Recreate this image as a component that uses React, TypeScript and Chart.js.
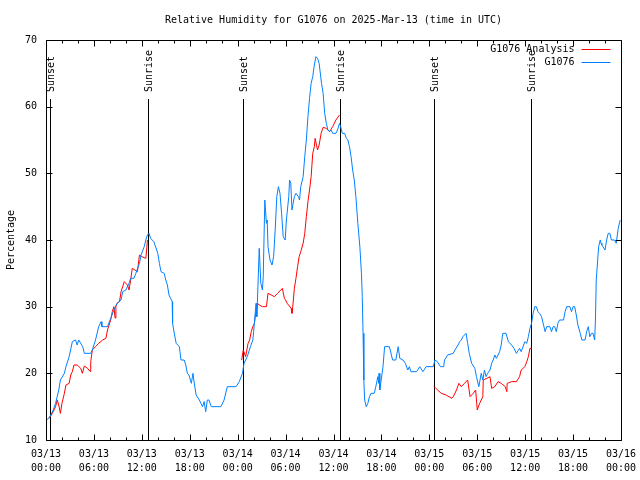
import React, { useEffect, useRef } from 'react';
import { Chart, registerables } from 'chart.js';

Chart.register(...registerables);

const FONT = '"DejaVu Sans Mono", "Liberation Mono", monospace';
const TITLE = 'Relative Humidity for G1076 on 2025-Mar-13 (time in UTC)';
const Y_LABEL = 'Percentage';

const xTickDates = ['03/13', '03/13', '03/13', '03/13', '03/14', '03/14', '03/14', '03/14', '03/15', '03/15', '03/15', '03/15', '03/16'];
const xTickTimes = ['00:00', '06:00', '12:00', '18:00', '00:00', '06:00', '12:00', '18:00', '00:00', '06:00', '12:00', '18:00', '00:00'];
const yTicks = [10, 20, 30, 40, 50, 60, 70];

const seriesNames = ['G1076 Analysis', 'G1076'];
const seriesColors = ['#ff0000', '#0080ff'];

// Observation series G1076 (hours since 03/13 00:00 UTC, percent)
const obsHours = [
  0.0, 0.3, 0.6, 0.9, 1.2, 1.6, 1.8, 2.3, 2.5, 2.9, 3.3, 3.7, 3.9, 4.1, 4.6, 4.8, 5.6, 5.8, 6.2, 6.6,
  6.9, 7.0, 7.7, 8.1, 8.5, 8.9, 9.4, 9.6, 10.0, 10.4, 10.6, 11.0, 11.25, 11.7, 11.9, 12.3, 12.5, 12.7, 12.9, 13.1,
  13.3, 13.5, 14.0, 14.2, 14.4, 14.8, 15.0, 15.2, 15.4, 15.6, 15.8, 15.85, 16.1, 16.3, 16.7, 16.9, 17.3, 17.5, 17.7, 17.9,
  18.2, 18.4, 18.6, 18.8, 19.2, 19.4, 19.6, 19.8, 20.0, 20.2, 20.4, 20.7, 21.9, 22.3, 22.7, 23.8, 24.2, 24.6, 24.8, 25.2,
  25.6, 25.9, 26.0, 26.3, 26.4, 26.5, 26.7, 26.9, 27.1, 27.2, 27.4, 27.6, 27.7, 27.8, 28.05, 28.3, 28.5, 28.7, 28.9, 29.1,
  29.3, 29.5, 29.7, 29.95, 30.1, 30.4, 30.5, 30.65, 30.8, 30.95, 31.1, 31.3, 31.6, 31.75, 31.9, 32.2, 32.4, 32.6, 32.8, 33.0,
  33.2, 33.4, 33.6, 33.8, 34.0, 34.2, 34.5, 34.7, 34.9, 35.1, 35.3, 35.5, 35.7, 35.9, 36.3, 36.5, 36.75, 36.9, 37.1, 37.4,
  37.6, 37.8, 38.0, 38.2, 38.4, 38.6, 38.8, 39.05, 39.3, 39.5, 39.6, 39.7, 39.8, 39.9, 40.1, 40.3, 40.5, 40.7, 41.1, 41.3,
  41.55, 41.65, 41.7, 41.8, 42.2, 42.4, 43.0, 43.4, 43.8, 44.1, 44.3, 44.7, 45.0, 45.3, 45.5, 45.7, 46.4, 46.8, 47.2, 47.6,
  48.5, 48.7, 49.0, 49.4, 49.8, 49.9, 50.3, 51.0, 51.2, 51.6, 51.8, 52.0, 52.2, 52.6, 52.8, 53.0, 53.3, 53.7, 53.9, 54.0,
  54.2, 54.5, 54.7, 54.9, 55.1, 55.3, 55.6, 55.8, 56.0, 56.2, 56.4, 56.8, 57.0, 57.2, 57.6, 57.9, 58.3, 58.6, 58.9, 59.3,
  59.5, 59.96, 60.2, 60.4, 60.6, 60.8, 61.0, 61.2, 61.4, 61.6, 61.8, 62.05, 62.3, 62.5, 62.7, 63.1, 63.3, 63.5, 63.7, 63.9,
  64.1, 64.3, 64.8, 65.0, 65.2, 65.6, 65.8, 66.0, 66.2, 66.4, 66.6, 66.9, 67.1, 67.5, 67.7, 67.9, 68.1, 68.3, 68.5, 68.7,
  68.8, 68.9, 69.2, 69.4, 69.5, 69.6, 70.0, 70.2, 70.4, 70.6, 70.8, 71.2, 71.4, 71.65, 71.9,
];
const obsValues = [
  13.0, 13.2, 13.75, 14.5, 15.5, 17.5, 19.0, 20.0, 21.0, 22.5, 24.75, 25.0, 24.25, 25.0, 24.0, 23.0, 23.0, 23.5, 25.0, 27.0,
  27.75, 27.0, 27.0, 28.25, 29.5, 30.5, 31.0, 32.25, 32.5, 33.5, 34.25, 34.25, 35.0, 36.5, 37.75, 39.0, 40.0, 40.75, 41.0, 40.25,
  40.0, 39.75, 38.0, 36.5, 35.25, 35.0, 34.0, 33.25, 31.75, 31.25, 30.75, 27.5, 25.75, 24.5, 24.0, 22.0, 22.0, 21.25, 20.0, 19.75,
  18.5, 20.0, 18.25, 16.75, 16.0, 15.5, 15.0, 15.75, 14.25, 16.0, 16.0, 15.0, 15.0, 16.0, 18.0, 18.0, 18.75, 20.0, 21.5, 22.5,
  24.0, 25.0, 26.25, 30.5, 28.5, 31.75, 38.75, 33.5, 32.5, 34.5, 46.0, 42.5, 43.0, 39.0, 37.0, 36.25, 37.5, 41.5, 46.5, 48.0,
  47.0, 44.0, 40.5, 40.0, 43.0, 46.5, 49.0, 48.5, 44.5, 45.5, 46.5, 47.0, 46.5, 46.0, 48.0, 49.5, 52.5, 55.0, 58.5, 61.25,
  63.5, 64.5, 66.25, 67.5, 67.25, 66.5, 63.5, 62.0, 59.0, 57.5, 56.5, 56.25, 56.5, 56.0, 56.0, 56.5, 57.5, 57.0, 56.0, 56.0,
  55.25, 55.0, 54.0, 52.5, 50.5, 49.0, 46.5, 42.5, 39.0, 35.0, 31.5, 26.0, 19.0, 16.0, 15.0, 15.5, 16.5, 17.0, 17.0, 18.0,
  19.5, 18.5, 20.0, 17.5, 21.0, 24.0, 24.0, 22.0, 22.0, 24.0, 22.25, 22.0, 21.5, 20.5, 21.0, 20.25, 20.25, 21.0, 20.25, 21.0,
  21.0, 22.0, 21.75, 21.0, 21.0, 22.0, 22.75, 23.0, 23.5, 24.25, 24.75, 25.0, 25.5, 26.0, 24.5, 23.0, 21.5, 20.75, 19.5, 19.0,
  18.0, 20.0, 19.0, 20.5, 19.5, 20.0, 20.5, 21.5, 22.0, 22.75, 22.25, 23.25, 24.25, 26.0, 26.0, 24.75, 24.25, 23.75, 23.0, 23.75,
  23.25, 24.75, 24.5, 25.5, 26.75, 27.5, 29.0, 30.0, 30.0, 29.25, 29.0, 28.5, 27.25, 26.25, 27.0, 27.0, 26.25, 27.0, 27.0, 26.25,
  27.5, 28.0, 28.0, 29.25, 30.0, 30.0, 29.25, 30.0, 30.0, 28.75, 27.25, 26.0, 25.0, 25.0, 26.25, 27.0, 25.5, 26.0, 26.0, 25.0,
  28.0, 34.0, 39.0, 40.0, 39.5, 39.25, 38.5, 40.0, 41.0, 41.0, 40.0, 40.0, 39.5, 41.75, 43.0,
];

// Analysis series G1076 Analysis (null = gap)
const anaHours = [
  0.4, 0.8, 1.2, 1.4, 1.6, 1.8, 2.0, 2.3, 2.5, 2.9, 3.1, 3.3, 3.5, 3.9, 4.35, 4.55, 4.8, 5.2, 5.55, 5.6,
  5.8, 6.2, 6.6, 7.1, 7.5, 7.7, 8.1, 8.3, 8.5, 8.65, 8.75, 8.9, 9.2, 9.4, 9.8, 10.2, 10.4, 10.6, 10.8, 11.45,
  11.7, 12.0, 12.5, 12.6, 12.7, 18.0,
  24.5, 24.7, 25.0, 25.3, 25.5, 25.7, 25.9, 26.1, 26.2, 26.5, 26.7, 27.1, 27.6, 27.8, 28.2, 28.6, 29.0, 29.4, 29.6, 29.85,
  30.0, 30.2, 30.7, 30.8, 30.9, 31.1, 31.3, 31.5, 31.7, 31.9, 32.2, 32.4, 32.6, 32.8, 33.0, 33.2, 33.4, 33.6, 33.7, 34.0,
  34.2, 34.45, 34.7, 35.1, 35.5, 35.9, 36.3, 36.75, 42.0,
  48.6, 48.8, 49.5, 50.1, 50.8, 51.0, 51.4, 51.7, 52.0, 52.4, 52.8, 53.1, 53.5, 53.8, 54.0, 54.3, 54.7, 54.75, 55.2, 55.6,
  55.8, 56.2, 56.6, 57.0, 57.5, 57.7, 57.75, 58.3, 58.9, 59.3, 59.5, 59.96, 60.2, 60.4, 60.6, 60.8,
];
const anaValues: (number | null)[] = [
  13.25, 14.0, 15.0, 16.0, 15.25, 14.0, 15.5, 17.0, 18.25, 18.5, 19.75, 20.25, 21.25, 21.25, 20.75, 20.0, 21.1, 20.75, 20.25, 21.75,
  23.5, 24.0, 24.5, 25.0, 25.25, 26.5, 28.0, 29.25, 30.0, 28.3, 30.0, 30.5, 30.75, 32.25, 33.75, 33.25, 32.5, 34.0, 35.75, 35.25,
  37.75, 37.5, 37.25, 38.5, 40.0, null,
  22.0, 23.5, 22.5, 24.5, 25.0, 26.25, 27.0, 27.5, 28.5, 30.5, 30.25, 30.0, 30.0, 32.0, 31.75, 31.5, 32.0, 32.5, 32.75, 31.25,
  31.0, 30.5, 29.75, 29.0, 30.0, 32.75, 34.25, 36.0, 37.5, 38.25, 39.5, 41.0, 43.5, 45.75, 47.5, 49.5, 53.0, 54.0, 55.25, 53.5,
  54.25, 56.0, 56.9, 56.75, 56.25, 57.0, 58.0, 58.75, null,
  18.0, 17.75, 17.0, 16.75, 16.25, 16.5, 17.5, 18.5, 18.0, 18.5, 19.0, 16.5, 17.0, 17.5, 14.5, 15.5, 16.5, 19.0, 19.25, 19.5,
  17.75, 18.0, 18.75, 18.5, 18.0, 17.25, 18.5, 18.75, 18.75, 19.5, 20.5, 21.0, 21.75, 22.5, 23.75, 23.75,
];

// Sun events (hours since 03/13 00:00 UTC)
const eventHours = [0.5, 12.72, 24.62, 36.84, 48.59, 60.74];
const eventLabels = ['Sunset', 'Sunrise', 'Sunset', 'Sunrise', 'Sunset', 'Sunrise'];

const crisp = (v: number) => Math.round(v) + 0.5;

const eventsPlugin = {
  id: 'sunEvents',
  beforeDatasetsDraw(chart: any) {
    const { ctx, chartArea: a, scales } = chart;
    const x = scales.x;
    ctx.save();
    ctx.strokeStyle = '#000';
    ctx.lineWidth = 1;
    ctx.fillStyle = '#000';
    ctx.font = `10px ${FONT}`;
    eventHours.forEach((h, i) => {
      const px = crisp(x.getPixelForValue(h));
      ctx.beginPath();
      ctx.moveTo(px, a.top + 59);
      ctx.lineTo(px, a.bottom);
      ctx.stroke();
      ctx.save();
      ctx.translate(px + 1, a.top + 52);
      ctx.rotate(-Math.PI / 2);
      ctx.textAlign = 'left';
      ctx.textBaseline = 'middle';
      ctx.fillText(eventLabels[i], 0, 0);
      ctx.restore();
    });
    ctx.restore();
  },
};

const framePlugin = {
  id: 'frame',
  afterDatasetsDraw(chart: any) {
    const { ctx, chartArea: a, scales } = chart;
    const x = scales.x;
    const y = scales.y;
    const L = crisp(a.left), R = crisp(a.right), T = crisp(a.top), B = crisp(a.bottom);
    ctx.save();
    ctx.strokeStyle = '#000';
    ctx.lineWidth = 1;
    ctx.beginPath();
    ctx.rect(L, T, R - L, B - T);
    ctx.stroke();
    // y ticks (mirrored)
    yTicks.forEach((v) => {
      const py = crisp(y.getPixelForValue(v));
      ctx.beginPath();
      ctx.moveTo(L, py); ctx.lineTo(L + 6, py);
      ctx.moveTo(R, py); ctx.lineTo(R - 6, py);
      ctx.stroke();
    });
    // x ticks: major every 6h, minor every 2h (mirrored)
    for (let h = 0; h <= 72; h += 2) {
      const px = crisp(x.getPixelForValue(h));
      const len = h % 6 === 0 ? 6 : 3;
      ctx.beginPath();
      ctx.moveTo(px, B); ctx.lineTo(px, B - len);
      ctx.moveTo(px, T); ctx.lineTo(px, T + len);
      ctx.stroke();
    }
    // legend (top right, inside)
    ctx.font = `10px ${FONT}`;
    ctx.fillStyle = '#000';
    ctx.textAlign = 'right';
    ctx.textBaseline = 'middle';
    const rows = [49, 62];
    seriesNames.forEach((name, i) => {
      const ry = rows[i];
      ctx.fillText(name, R - 47, ry);
      ctx.strokeStyle = seriesColors[i];
      ctx.beginPath();
      ctx.moveTo(R - 40, ry + 0.5);
      ctx.lineTo(R - 11, ry + 0.5);
      ctx.stroke();
    });
    // title
    ctx.textAlign = 'center';
    ctx.fillText(TITLE, (a.left + a.right) / 2, 20);
    ctx.restore();
  },
};

export default function App() {
  const canvasRef = useRef<HTMLCanvasElement | null>(null);

  useEffect(() => {
    const canvas = canvasRef.current;
    if (!canvas) return;
    Chart.defaults.font.family = FONT;
    Chart.defaults.font.size = 10;
    Chart.defaults.color = '#000';

    const obsData = obsHours.map((h, i) => ({ x: h, y: obsValues[i] }));
    const anaData = anaHours.map((h, i) => ({ x: h, y: anaValues[i] }));

    const chart = new Chart(canvas, {
      type: 'line',
      data: {
        datasets: [
          {
            label: seriesNames[1],
            data: obsData as any,
            borderColor: seriesColors[1],
            borderWidth: 1,
            pointRadius: 0,
            fill: false,
            tension: 0,
          },
          {
            label: seriesNames[0],
            data: anaData as any,
            borderColor: seriesColors[0],
            borderWidth: 1,
            pointRadius: 0,
            fill: false,
            tension: 0,
            spanGaps: false,
          },
        ],
      },
      options: {
        responsive: false,
        animation: false,
        events: [],
        layout: { padding: { top: 40, right: 19, bottom: 0, left: 0 } },
        plugins: {
          legend: { display: false },
          title: { display: false },
          tooltip: { enabled: false },
        },
        scales: {
          x: {
            type: 'linear',
            min: 0,
            max: 72,
            grid: { display: false, drawTicks: false },
            border: { display: false },
            ticks: {
              stepSize: 6,
              autoSkip: false,
              maxRotation: 0,
              minRotation: 0,
              padding: 7,
              font: { family: FONT, size: 10, lineHeight: 1.4 },
              color: '#000',
              callback: (v: any) => {
                const i = Math.round(Number(v) / 6);
                return [xTickDates[i], xTickTimes[i]];
              },
            },
            afterFit: (scale: any) => {
              scale.height = 40;
              scale.paddingLeft = 0;
              scale.paddingRight = 0;
            },
          },
          y: {
            type: 'linear',
            min: 10,
            max: 70,
            grid: { display: false, drawTicks: false },
            border: { display: false },
            ticks: {
              stepSize: 10,
              padding: 9,
              font: { family: FONT, size: 10 },
              color: '#000',
            },
            title: {
              display: true,
              text: Y_LABEL,
              font: { family: FONT, size: 10 },
              color: '#000',
              padding: { top: 5, bottom: 4 },
            },
            afterFit: (scale: any) => {
              scale.width = 46;
              scale.paddingTop = 0;
              scale.paddingBottom = 0;
            },
          },
        },
      },
      plugins: [eventsPlugin, framePlugin],
    });
    return () => chart.destroy();
  }, []);

  return (
    <div style={{ position: 'absolute', left: 0, top: 0, width: 640, height: 480, background: '#fff' }}>
      <canvas ref={canvasRef} width={640} height={480} style={{ width: 640, height: 480, display: 'block' }} />
    </div>
  );
}
